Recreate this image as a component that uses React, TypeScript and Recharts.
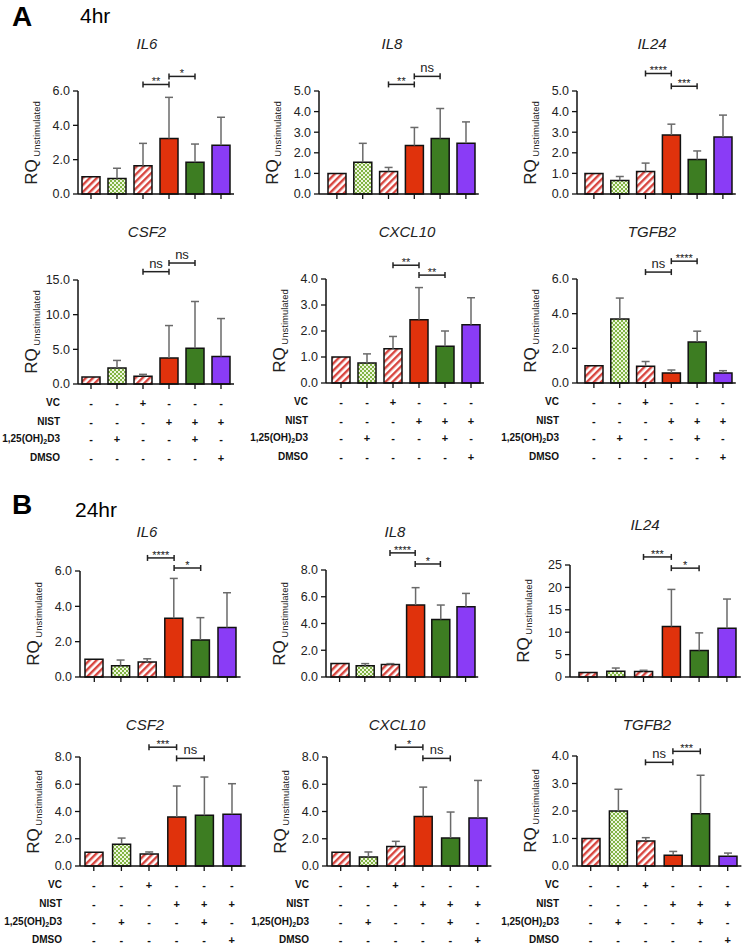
import React from 'react'
import { BarChart, Bar, XAxis, YAxis, Cell, ErrorBar, ReferenceLine } from 'recharts'

const groups = ['Unstim', '1,25D3', 'VC', 'NIST', 'NIST+1,25D3', 'NIST+DMSO']

// treatment matrix under the lower charts
const rowNames = ['VC', 'NIST', '1,25(OH)2D3', 'DMSO']
const vcSigns = ['-', '-', '+', '-', '-', '-']
const nistSigns = ['-', '-', '-', '+', '+', '+']
const d3Signs = ['-', '+', '-', '-', '+', '-']
const dmsoSigns = ['-', '-', '-', '-', '-', '+']
const signRows = [vcSigns, nistSigns, d3Signs, dmsoSigns]

// 4hr
const il6_4h = [1.0, 0.91, 1.65, 3.24, 1.85, 2.84]
const il6_4h_sd = [null, 0.59, 1.3, 2.39, 1.06, 1.63]
const il8_4h = [1.0, 1.54, 1.09, 2.35, 2.7, 2.46]
const il8_4h_sd = [null, 0.92, 0.2, 0.88, 1.45, 1.04]
const il24_4h = [1.0, 0.66, 1.09, 2.86, 1.67, 2.77]
const il24_4h_sd = [null, 0.19, 0.41, 0.53, 0.42, 1.06]
const csf2_4h = [1.0, 2.3, 1.1, 3.74, 5.17, 3.98]
const csf2_4h_sd = [null, 1.1, 0.29, 4.69, 6.73, 5.46]
const cxcl10_4h = [1.0, 0.77, 1.32, 2.43, 1.41, 2.24]
const cxcl10_4h_sd = [null, 0.35, 0.47, 1.24, 0.59, 1.04]
const tgfb2_4h = [1.0, 3.69, 0.97, 0.58, 2.36, 0.58]
const tgfb2_4h_sd = [null, 1.21, 0.27, 0.17, 0.63, 0.13]

// 24hr
const il6_24h = [1.0, 0.64, 0.85, 3.33, 2.1, 2.8]
const il6_24h_sd = [null, 0.32, 0.18, 2.25, 1.26, 1.97]
const il8_24h = [1.0, 0.85, 0.93, 5.38, 4.3, 5.25]
const il8_24h_sd = [null, 0.15, 0.07, 1.3, 1.08, 1.0]
const il24_24h = [1.0, 1.27, 1.2, 11.27, 5.9, 10.9]
const il24_24h_sd = [null, 0.73, 0.3, 8.28, 3.95, 6.5]
const csf2_24h = [1.0, 1.59, 0.88, 3.59, 3.72, 3.79]
const csf2_24h_sd = [null, 0.46, 0.15, 2.28, 2.81, 2.25]
const cxcl10_24h = [1.0, 0.66, 1.44, 3.64, 2.05, 3.52]
const cxcl10_24h_sd = [null, 0.37, 0.37, 2.15, 1.91, 2.76]
const tgfb2_24h = [1.0, 2.0, 0.91, 0.39, 1.9, 0.35]
const tgfb2_24h_sd = [null, 0.79, 0.12, 0.14, 1.4, 0.12]

// significance labels: [ctrl vs NIST, NIST vs NIST+1,25D3]
const il6_4h_sig = ['**', '*']
const il8_4h_sig = ['**', 'ns']
const il24_4h_sig = ['****', '***']
const csf2_4h_sig = ['ns', 'ns']
const cxcl10_4h_sig = ['**', '**']
const tgfb2_4h_sig = ['ns', '****']
const il6_24h_sig = ['****', '*']
const il8_24h_sig = ['****', '*']
const il24_24h_sig = ['***', '*']
const csf2_24h_sig = ['***', 'ns']
const cxcl10_24h_sig = ['*', 'ns']
const tgfb2_24h_sig = ['ns', '***']

const ticks6 = [0, 2, 4, 6]
const ticks5 = [0, 1, 2, 3, 4, 5]
const ticks15 = [0, 5, 10, 15]
const ticks4 = [0, 1, 2, 3, 4]
const ticks8 = [0, 2, 4, 6, 8]
const ticks25 = [0, 5, 10, 15, 20, 25]

const barFills = ['url(#hatch)', 'url(#check)', 'url(#hatch)', '#e0320c', '#3d7d22', '#8a3cf6']
const FONT = '"Liberation Sans", Arial, sans-serif'
const TOP = 45
const offsA = [19, 38, 55, 74]
const offsB = [19, 38, 56, 74]

const panels = [
  { title: 'IL6', vals: il6_4h, sd: il6_4h_sd, sig: il6_4h_sig, lv: [6.38, 6.85], ticks: ticks6, dec: 1, axisX: 78, padL: 0, band: 26, yTop: 91, yZero: 194, tx: 147, ty: 44 },
  { title: 'IL8', vals: il8_4h, sd: il8_4h_sd, sig: il8_4h_sig, lv: [5.32, 5.71], ticks: ticks5, dec: 1, axisX: 319, padL: 5, band: 25.8, yTop: 91, yZero: 194, tx: 392, ty: 44 },
  { title: 'IL24', vals: il24_4h, sd: il24_4h_sd, sig: il24_4h_sig, lv: [5.85, 5.23], ticks: ticks5, dec: 1, axisX: 577, padL: 4, band: 25.8, yTop: 91, yZero: 194, tx: 652, ty: 44 },
  { title: 'CSF2', vals: csf2_4h, sd: csf2_4h_sd, sig: csf2_4h_sig, lv: [16.2, 17.45], ticks: ticks15, dec: 1, axisX: 78, padL: 0, band: 26, yTop: 280, yZero: 384, tx: 147, ty: 232, offs: offsA },
  { title: 'CXCL10', vals: cxcl10_4h, sd: cxcl10_4h_sd, sig: cxcl10_4h_sig, lv: [4.53, 4.15], ticks: ticks4, dec: 1, axisX: 326, padL: 2, band: 26, yTop: 279, yZero: 383, tx: 407, ty: 232, offs: offsA },
  { title: 'TGFB2', vals: tgfb2_4h, sd: tgfb2_4h_sd, sig: tgfb2_4h_sig, lv: [6.4, 7.03], ticks: ticks6, dec: 1, axisX: 577, padL: 4, band: 25.8, yTop: 279, yZero: 383, tx: 652, ty: 232, offs: offsA },
  { title: 'IL6', vals: il6_24h, sd: il6_24h_sd, sig: il6_24h_sig, lv: [6.74, 6.17], ticks: ticks6, dec: 1, axisX: 80, padL: 1, band: 26.6, yTop: 571, yZero: 677, tx: 147, ty: 532 },
  { title: 'IL8', vals: il8_24h, sd: il8_24h_sd, sig: il8_24h_sig, lv: [9.28, 8.45], ticks: ticks8, dec: 1, axisX: 326, padL: 1, band: 25.2, yTop: 570, yZero: 677, tx: 395, ty: 532 },
  { title: 'IL24', vals: il24_24h, sd: il24_24h_sd, sig: il24_24h_sig, lv: [26.8, 24.3], ticks: ticks25, dec: 0, axisX: 570, padL: 4, band: 27.8, yTop: 565, yZero: 677, tx: 645, ty: 525 },
  { title: 'CSF2', vals: csf2_24h, sd: csf2_24h_sd, sig: csf2_24h_sig, lv: [8.72, 7.9], ticks: ticks8, dec: 1, axisX: 80, padL: 0, band: 27.6, yTop: 757, yZero: 866, tx: 145, ty: 725, offs: offsB },
  { title: 'CXCL10', vals: cxcl10_24h, sd: cxcl10_24h_sd, sig: cxcl10_24h_sig, lv: [8.72, 7.9], ticks: ticks8, dec: 1, axisX: 327, padL: 0, band: 27.4, yTop: 757, yZero: 866, tx: 397, ty: 725, offs: offsB },
  { title: 'TGFB2', vals: tgfb2_24h, sd: tgfb2_24h_sd, sig: tgfb2_24h_sig, lv: [3.77, 4.17], ticks: ticks4, dec: 1, axisX: 577, padL: 0, band: 27.4, yTop: 756, yZero: 866, tx: 647, ty: 725, offs: offsB },
]

const bracket = (label: string) => (props: any) => {
  const { x1, y1, x2 } = props
  const isNs = label === 'ns'
  return (
    <g>
      <line x1={x1} y1={y1} x2={x2} y2={y1} stroke="#222" strokeWidth={1.5} />
      <line x1={x1} y1={y1 - 3} x2={x1} y2={y1 + 3} stroke="#222" strokeWidth={1.5} />
      <line x1={x2} y1={y1 - 3} x2={x2} y2={y1 + 3} stroke="#222" strokeWidth={1.5} />
      <text x={(x1 + x2) / 2} y={isNs ? y1 - 4 : y1 + 1} textAnchor="middle" fontSize={isNs ? 13 : 11}
        fontFamily={FONT} fill="#222">{label}</text>
    </g>
  )
}

function SignTick(props: any) {
  const { x, y, index, offs } = props
  return (
    <g>
      {signRows.map((row, r) => (
        <text key={r} x={x} y={y - 5 + offs[r] + 4} textAnchor="middle"
          fontSize={11} fontWeight={700} fontFamily={FONT} fill="#111">{row[index]}</text>
      ))}
    </g>
  )
}

function RowName({ name }: { name: string }) {
  if (name.indexOf('2D3') < 0) return <>{name}</>
  return <>1,25(OH)<span style={{ fontSize: 7, verticalAlign: -2 }}>2</span>D3</>
}

function Panel({ p }: { p: any }) {
  const plotH = p.yZero - p.yTop
  const bottom = p.offs ? 85 : 10
  const width = 70 + p.padL + 6 * p.band + 2
  const height = TOP + plotH + bottom
  const max = p.ticks[p.ticks.length - 1]
  const data = groups.map((g, i) => ({ g, v: p.vals[i], e: p.sd[i] == null ? null : [0, p.sd[i]] }))
  return (
    <>
      <div style={{ position: 'absolute', left: p.axisX - 70, top: p.yTop - TOP }}>
        <BarChart width={width} height={height} data={data} barSize={18}
          margin={{ top: TOP, right: 2, bottom: 0, left: 0 }}>
          <XAxis dataKey="g" height={bottom} interval={0} padding={{ left: p.padL, right: 0 }}
            tickSize={5} tickMargin={0}
            axisLine={{ stroke: '#111', strokeWidth: 1.5 }} tickLine={{ stroke: '#111', strokeWidth: 1.3 }}
            tick={p.offs ? (t: any) => <SignTick {...t} offs={p.offs} /> : () => <g />} />
          <YAxis type="number" width={70} domain={[0, max]} ticks={p.ticks} interval={0}
            tickSize={5} tickMargin={3}
            tickFormatter={(v: number) => v.toFixed(p.dec)}
            tick={{ fontSize: 12.5, fill: '#222', fontFamily: FONT }}
            axisLine={{ stroke: '#111', strokeWidth: 1.5 }} tickLine={{ stroke: '#111', strokeWidth: 1.3 }} />
          <Bar dataKey="v" stroke="#111" strokeWidth={1.5} isAnimationActive={false}>
            {data.map((d, i) => <Cell key={d.g} fill={barFills[i]} />)}
            <ErrorBar dataKey="e" direction="y" width={4} stroke="#6a6a6a" strokeWidth={1.5} />
          </Bar>
          <ReferenceLine ifOverflow="visible" segment={[{ x: groups[2], y: p.lv[0] }, { x: groups[3], y: p.lv[0] }]}
            shape={bracket(p.sig[0])} />
          <ReferenceLine ifOverflow="visible" segment={[{ x: groups[3], y: p.lv[1] }, { x: groups[4], y: p.lv[1] }]}
            shape={bracket(p.sig[1])} />
        </BarChart>
      </div>
      <div style={{ position: 'absolute', left: p.tx - 60, width: 120, top: p.ty - 9, lineHeight: '18px',
        textAlign: 'center', fontSize: 15, fontStyle: 'italic', color: '#222' }}>{p.title}</div>
      <div style={{ position: 'absolute', left: p.axisX - 47, top: (p.yTop + p.yZero) / 2,
        transform: 'translate(-50%, -50%) rotate(-90deg)', whiteSpace: 'nowrap', lineHeight: 1, color: '#222' }}>
        <span style={{ fontSize: 17 }}>RQ</span>
        <span style={{ fontSize: 9.5, position: 'relative', top: 3 }}> Unstimulated</span>
      </div>
      {p.offs && rowNames.map((n, r) => (
        <div key={n} style={{ position: 'absolute', left: 0, width: p.axisX - 18, top: p.yZero + p.offs[r] - 6,
          lineHeight: '12px', textAlign: 'right', fontSize: 10, fontWeight: 700, color: '#111', whiteSpace: 'nowrap' }}>
          <RowName name={n} />
        </div>
      ))}
    </>
  )
}

export default function App() {
  return (
    <div style={{ position: 'absolute', left: 0, top: 0, width: 742, height: 948, background: '#fff',
      fontFamily: FONT, overflow: 'hidden' }}>
      <style>{'.recharts-errorBar line:nth-of-type(3){display:none}'}</style>
      <svg width={0} height={0} style={{ position: 'absolute' }}>
        <defs>
          <pattern id="hatch" patternUnits="userSpaceOnUse" width={5} height={5} patternTransform="rotate(45)">
            <rect width={5} height={5} fill="#fff" />
            <line x1={1.2} y1={0} x2={1.2} y2={5} stroke="#d8453f" strokeWidth={2.4} />
          </pattern>
          <pattern id="check" patternUnits="userSpaceOnUse" width={4} height={4}>
            <rect width={4} height={4} fill="#eef6df" />
            <rect width={2} height={2} fill="#82b444" />
            <rect x={2} y={2} width={2} height={2} fill="#82b444" />
          </pattern>
        </defs>
      </svg>
      <div style={{ position: 'absolute', left: 12, top: 3, fontSize: 28, fontWeight: 700, lineHeight: 1 }}>A</div>
      <div style={{ position: 'absolute', left: 80, top: 5, fontSize: 21, lineHeight: 1 }}>4hr</div>
      <div style={{ position: 'absolute', left: 12, top: 491, fontSize: 28, fontWeight: 700, lineHeight: 1 }}>B</div>
      <div style={{ position: 'absolute', left: 75, top: 499, fontSize: 21, lineHeight: 1 }}>24hr</div>
      {panels.map((p, i) => <Panel key={i} p={p} />)}
    </div>
  )
}
